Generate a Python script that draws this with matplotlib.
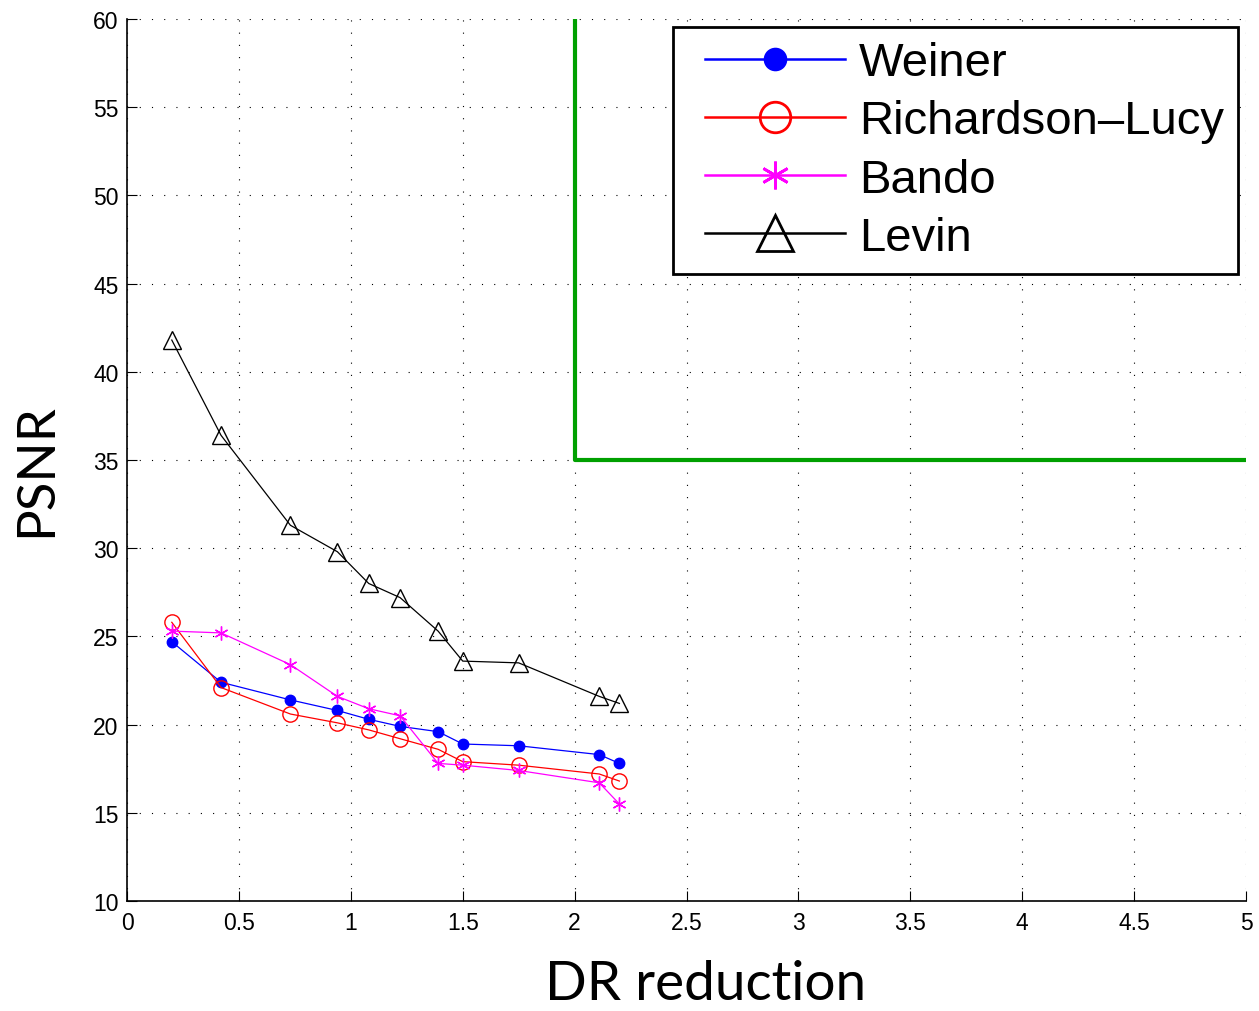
import numpy as np
import matplotlib.pyplot as plt
from matplotlib.legend_handler import HandlerLine2D

# DR reduction values (shared by all methods)
dr = [0.20, 0.42, 0.73, 0.94, 1.08, 1.22, 1.39, 1.50, 1.75, 2.11, 2.20]

# PSNR per method
weiner = [24.7, 22.4, 21.4, 20.8, 20.3, 19.9, 19.6, 18.9, 18.8, 18.3, 17.8]
richardson_lucy = [25.8, 22.1, 20.6, 20.1, 19.7, 19.2, 18.6, 17.9, 17.7, 17.2, 16.8]
bando = [25.3, 25.2, 23.4, 21.6, 20.9, 20.5, 17.8, 17.7, 17.4, 16.7, 15.5]
levin = [41.8, 36.4, 31.3, 29.8, 28.0, 27.2, 25.3, 23.6, 23.5, 21.6, 21.2]

# target region corner
target_x = [2, 2, 5]
target_y = [60, 35, 35]

x_ticks = [0, 0.5, 1, 1.5, 2, 2.5, 3, 3.5, 4, 4.5, 5]
x_ticklabels = ["0", "0.5", "1", "1.5", "2", "2.5", "3", "3.5", "4", "4.5", "5"]
y_ticks = [10, 15, 20, 25, 30, 35, 40, 45, 50, 55, 60]


def plot():
    plt.rcParams['font.family'] = ['Liberation Sans', 'DejaVu Sans']

    fig = plt.figure(figsize=(12.59, 10.12), dpi=100)
    ax = fig.add_axes([0.1009, 0.1087, 0.8888, 0.8715])

    ax.plot(target_x, target_y, color="#00a000", lw=3.0, zorder=2)

    ax.plot(dr, weiner, color="blue", lw=0.9, marker="o", ms=7.5,
            mfc="blue", mec="blue", label="Weiner", zorder=3)
    ax.plot(dr, richardson_lucy, color="red", lw=0.9, marker="o", ms=11,
            mfc="none", mec="red", mew=1.0, label="Richardson\u2013Lucy", zorder=3)
    ax.plot(dr, bando, color="magenta", lw=0.9, marker=(6, 2, 0), ms=10,
            mec="magenta", mew=1.0, label="Bando", zorder=3)
    ax.plot(dr, levin, color="black", lw=0.9, marker="^", ms=13,
            mfc="none", mec="black", mew=1.0, label="Levin", zorder=3)

    ax.set_xlim(0, 5)
    ax.set_ylim(10, 60)
    ax.set_xticks(x_ticks)
    ax.set_xticklabels(x_ticklabels)
    ax.set_yticks(y_ticks)
    ax.tick_params(direction="in", length=7, width=0.8, labelsize=16.5)
    ax.tick_params(axis="x", pad=7)
    ax.tick_params(axis="y", pad=6)
    ax.grid(True, color="black", linestyle=(0, (1, 10)), linewidth=0.8)

    for side in ["top", "right"]:
        ax.spines[side].set_visible(False)
    for side in ["left", "bottom"]:
        ax.spines[side].set_linewidth(1.2)

    ax.set_xlabel("DR reduction", fontsize=39.5, family=["Lato", "DejaVu Sans"])
    ax.set_ylabel("PSNR", fontsize=38, family=["Lato", "DejaVu Sans"])
    ax.xaxis.set_label_coords(0.517, -0.066)
    ax.yaxis.set_label_coords(-0.0595, 0.490)

    # extra room left of the legend handles
    hmap = {}
    for line in ax.get_lines()[1:]:
        hmap[line] = HandlerLine2D(xpad=0.38)

    leg = ax.legend(loc="upper right", fontsize=34, handlelength=3.33,
                    borderaxespad=0.17, fancybox=False, framealpha=1,
                    labelspacing=0.3, handletextpad=0.3, borderpad=0.3,
                    markerscale=2.0, handler_map=hmap)
    leg.get_frame().set_edgecolor("black")
    leg.get_frame().set_linewidth(2)
    for line in leg.get_lines():
        line.set_linewidth(1.8)
        line.set_markeredgewidth(2.0)

    fig.savefig("out.png", dpi=100)
    plt.close(fig)


if __name__ == "__main__":
    plot()
